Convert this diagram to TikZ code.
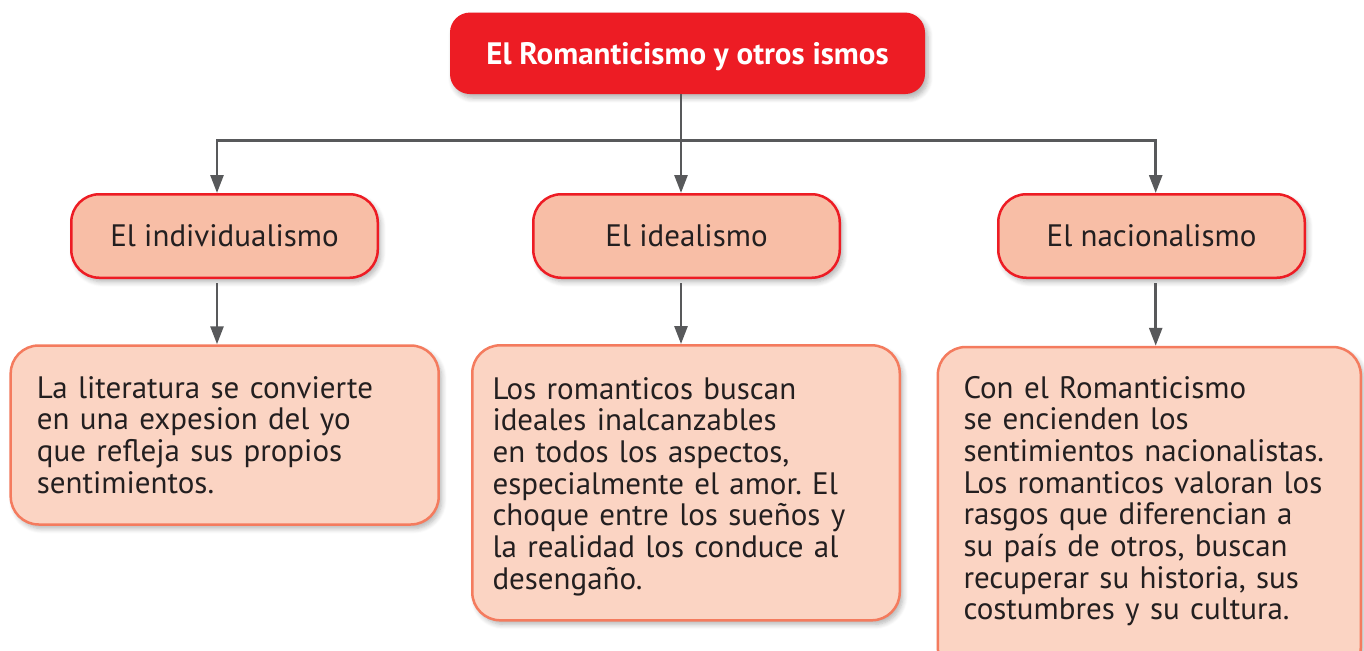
\documentclass[tikz,border=0pt]{standalone}
\usepackage{fontspec}
\setmainfont{PT Sans}
\usetikzlibrary{arrows.meta,shadows.blur}
\definecolor{topred}{HTML}{ED1C24}
\definecolor{midfill}{HTML}{F8BEA6}
\definecolor{botfill}{HTML}{FBD4C3}
\definecolor{botline}{HTML}{F47B5E}
\definecolor{arrgray}{HTML}{58595B}
\definecolor{txt}{HTML}{231F20}
\frenchspacing
\begin{document}
\begin{tikzpicture}[x=1pt,y=-1pt,
  shadowed/.style={blur shadow={shadow xshift=3pt,shadow yshift=-4pt,shadow blur steps=6,shadow opacity=30,shadow blur radius=5pt}},
  topbox/.style={shadowed,fill=topred,rounded corners=20pt,inner sep=0pt,
    text=white,font=\fontsize{31}{32}\selectfont\bfseries,text height=21.8pt,text depth=0pt},
  midbox/.style={shadowed,fill=midfill,draw=topred,line width=2.5pt,rounded corners=28pt,inner sep=0pt,
    minimum width=306.5pt,minimum height=83.5pt,
    text=txt,font=\fontsize{31}{32}\selectfont,text height=21.8pt,text depth=0pt},
  botbox/.style={shadowed,fill=botfill,draw=botline,line width=2.5pt,rounded corners=28pt,inner sep=0pt},
  bodytext/.style={text=txt,font=\fontsize{31}{31.7}\selectfont\frenchspacing,text width=420pt,align=left,inner sep=0pt,anchor=base west},
  conn/.style={draw=arrgray,line width=2.7pt,-{Triangle[width=13pt,length=18pt]}}
]
\useasboundingbox (0,0) rectangle (1364,650);

% top
\node[topbox,minimum width=475pt,minimum height=81.5pt] (top) at (687.5,53.3) {El Romanticismo y otros ismos};

% middle
\node[midbox] (mid1) at (224.5,236) {El individualismo};
\node[midbox] (mid2) at (686.5,236) {El idealismo};
\node[midbox] (mid3) at (1151.5,236) {El nacionalismo};

% bottom
\node[botbox,minimum width=428pt,minimum height=179pt] (bot1) at (224.7,435) {};
\node[botbox,minimum width=427.5pt,minimum height=275pt] (bot2) at (686,482.8) {};
\node[botbox,minimum width=423pt,minimum height=328pt] (bot3) at (1149.3,511) {};

\node[bodytext] (t1) at (36.7,398) {La literatura se convierte\\en una expesion del yo\\que refleja sus propios\\sentimientos.};
\node[bodytext] (t2) at (492.3,399) {Los romanticos buscan\\ideales inalcanzables\\en todos los aspectos,\\especialmente el amor. El\\choque entre los sueños y\\la realidad los conduce al\\desengaño.};
\node[bodytext] (t3) at (963.3,398) {Con el Romanticismo\\se encienden los\\sentimientos nacionalistas.\\Los romanticos valoran los\\rasgos que diferencian a\\su país de otros, buscan\\recuperar su historia, sus\\costumbres y su cultura.};

% connectors
\coordinate (j1) at (217,140.7);
\coordinate (j2) at (681,140.7);
\coordinate (j3) at (1155.7,140.7);
\draw[conn] (top.south -| j2) -- (mid2.north -| j2);
\draw[conn] (j2) -| (mid1.north -| j1);
\draw[conn] (j2) -| (mid3.north -| j3);
\draw[conn,shorten <=4pt] (mid1.south -| j1) -- (bot1.north -| j1);
\draw[conn,shorten <=4pt] (mid2.south -| j2) -- (bot2.north -| j2);
\draw[conn,shorten <=4pt] (mid3.south -| j3) -- (bot3.north -| j3);
\end{tikzpicture}
\end{document}
